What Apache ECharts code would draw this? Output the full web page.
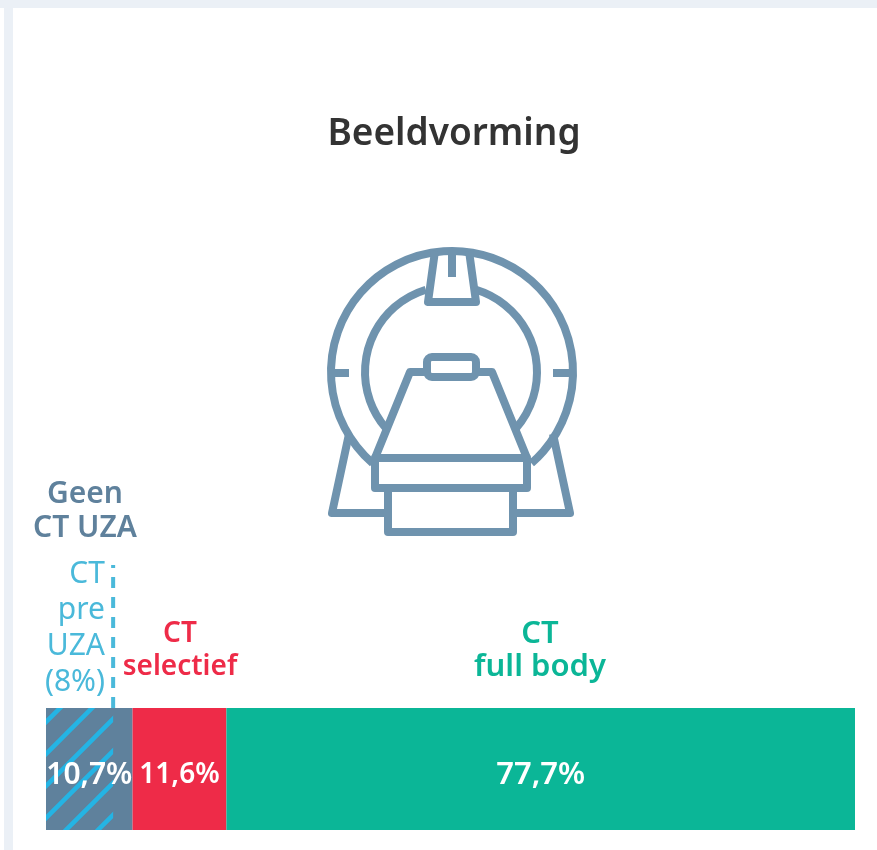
<!DOCTYPE html>
<html>
<head>
<meta charset="utf-8">
<title>Beeldvorming</title>
<script src="https://cdn.jsdelivr.net/npm/echarts@6/dist/echarts.min.js"></script>
<style>
    html, body {margin: 0; padding: 0; background: #fff;}
    #chart {width: 877px; height: 850px;}
</style>
</head>
<body>
<div id="chart"></div>
<script>
var titleText = 'Beeldvorming';
var categories = ['Beeldvorming'];
var geenValues = [10.7];
var selectiefValues = [11.6];
var fullBodyValues = [77.7];
// dashed line sits a bit past 8 in the picture
var preUzaValues = [8.3];
var geenLabel = 'Geen\nCT UZA';
var preUzaLabel = 'CT\npre\nUZA\n(8%)';
var selectiefLabel = 'CT\nselectief';
var fullBodyLabel = 'CT\nfull body';

var FONT = '"Noto Sans", sans-serif';
var ICON = '#6f93ae';
var BLUE_GREY = '#5f819c';
var RED = '#ee2b48';
var GREEN = '#0bb697';
var SKY = '#24b4e4';
var SKY_TEXT = '#4ab9da';
var PANEL = '#ebf0f6';

// diagonale strepen voor het deel "CT pre UZA"
function hatchPattern() {
    var size = 32;
    var c = document.createElement('canvas');
    c.width = size;
    c.height = size;
    var ctx = c.getContext('2d');
    ctx.strokeStyle = SKY;
    ctx.lineWidth = 4.5;
    ctx.beginPath();
    ctx.moveTo(-4, size + 4);
    ctx.lineTo(size + 4, -4);
    ctx.moveTo(-4, 4);
    ctx.lineTo(4, -4);
    ctx.moveTo(size - 4, size + 4);
    ctx.lineTo(size + 4, size - 4);
    ctx.stroke();
    return c;
}

function valueLabel(params) {
    return String(params.value).replace('.', ',') + '%';
}

function barLabel(size) {
    return {
        show: true,
        position: 'inside',
        offset: [0, 6],
        color: '#fff',
        fontFamily: FONT,
        fontWeight: 600,
        fontSize: size,
        formatter: valueLabel
    };
}

var iconStyle = {fill: 'none', stroke: ICON, lineWidth: 8, lineJoin: 'round', lineCap: 'butt'};

function iconLine(points) {
    return {type: 'polyline', silent: true, shape: {points: points}, style: iconStyle};
}

function iconArc(cx, cy, r, from, to) {
    return {
        type: 'arc',
        silent: true,
        shape: {cx: cx, cy: cy, r: r, startAngle: from * Math.PI / 180, endAngle: to * Math.PI / 180, clockwise: true},
        style: iconStyle
    };
}

function iconBox(x, y, w, h, r) {
    return {type: 'rect', silent: true, shape: {x: x, y: y, width: w, height: h, r: r || 0}, style: iconStyle};
}

function caption(text, x, y, color, align, weight, size, lineHeight) {
    return {
        type: 'text',
        x: x,
        y: y,
        silent: true,
        style: {
            text: text,
            fill: color,
            align: align,
            verticalAlign: 'top',
            font: weight + ' ' + size + 'px ' + FONT,
            lineHeight: lineHeight
        }
    };
}

var myChart = echarts.init(document.getElementById('chart'));
myChart.setOption({
    animation: false,
    backgroundColor: '#fff',
    title: {
        text: titleText,
        left: 449,
        top: 111,
        textAlign: 'center',
        textStyle: {color: '#333', fontFamily: FONT, fontWeight: 600, fontSize: 37}
    },
    grid: [
        {left: 46, right: 22, top: 708, height: 122},
        {left: 46, right: 22, top: 565, height: 143}
    ],
    xAxis: [
        {gridIndex: 0, type: 'value', min: 0, max: 100, show: false},
        {gridIndex: 1, type: 'value', min: 0, max: 100, show: false}
    ],
    yAxis: [
        {gridIndex: 0, type: 'category', data: categories, show: false},
        {gridIndex: 1, type: 'value', min: 0, max: 1, show: false}
    ],
    series: [
        {
            name: 'Geen CT UZA',
            type: 'bar',
            stack: 'totaal',
            barWidth: '100%',
            barGap: '-100%',
            itemStyle: {color: BLUE_GREY},
            data: geenValues
        },
        {
            name: 'CT selectief',
            type: 'bar',
            stack: 'totaal',
            itemStyle: {color: RED},
            label: barLabel(28),
            data: selectiefValues
        },
        {
            name: 'CT full body',
            type: 'bar',
            stack: 'totaal',
            itemStyle: {color: GREEN},
            label: barLabel(31),
            data: fullBodyValues
        },
        {
            name: 'CT pre UZA',
            type: 'bar',
            barWidth: '100%',
            barGap: '-100%',
            itemStyle: {color: {image: hatchPattern(), repeat: 'repeat'}},
            data: preUzaValues
        },
        // los van de arcering, anders valt het label eronder
        {
            name: 'Geen CT UZA label',
            type: 'bar',
            stack: 'labels',
            barWidth: '100%',
            barGap: '-100%',
            z: 5,
            itemStyle: {color: 'transparent'},
            label: barLabel(30),
            data: geenValues
        },
        {
            name: 'Grens CT pre UZA',
            type: 'line',
            xAxisIndex: 1,
            yAxisIndex: 1,
            symbol: 'none',
            lineStyle: {color: SKY_TEXT, width: 4, type: [11, 9]},
            data: [[preUzaValues[0], 0], [preUzaValues[0], 1]]
        }
    ],
    graphic: [
        {type: 'rect', silent: true, shape: {x: 4, y: 0, width: 9, height: 850}, style: {fill: PANEL}},
        {type: 'rect', silent: true, shape: {x: 0, y: 0, width: 877, height: 8}, style: {fill: PANEL}},
        // CT-scanner icoon
        iconArc(452, 372, 121, 131, 409),
        iconArc(451, 372, 86, 139, 253),
        iconArc(451, 372, 86, -73, 41),
        iconLine([[435, 251], [428, 302], [476, 302], [469, 251]]),
        iconLine([[452, 250], [452, 277]]),
        iconLine([[330, 373], [349, 373]]),
        iconLine([[553, 373], [574, 373]]),
        iconBox(427, 357, 49, 20, 5),
        iconLine([[375, 458], [410, 372], [427, 372]]),
        iconLine([[476, 372], [492, 372], [527, 458]]),
        iconBox(375, 458, 152, 30),
        iconBox(388, 488, 125, 44),
        iconLine([[375, 488], [527, 488]]),
        iconLine([[349, 434], [332, 513], [388, 513]]),
        iconLine([[553, 434], [570, 513], [513, 513]]),
        // teksten boven de balk
        caption(geenLabel, 85, 477, BLUE_GREY, 'center', 600, 30, 34),
        caption(preUzaLabel, 105, 556, SKY_TEXT, 'right', 400, 30, 36),
        caption(selectiefLabel, 180, 618, RED, 'center', 600, 28, 33),
        caption(fullBodyLabel, 540, 618, GREEN, 'center', 600, 31, 33)
    ]
});
</script>
</body>
</html>
